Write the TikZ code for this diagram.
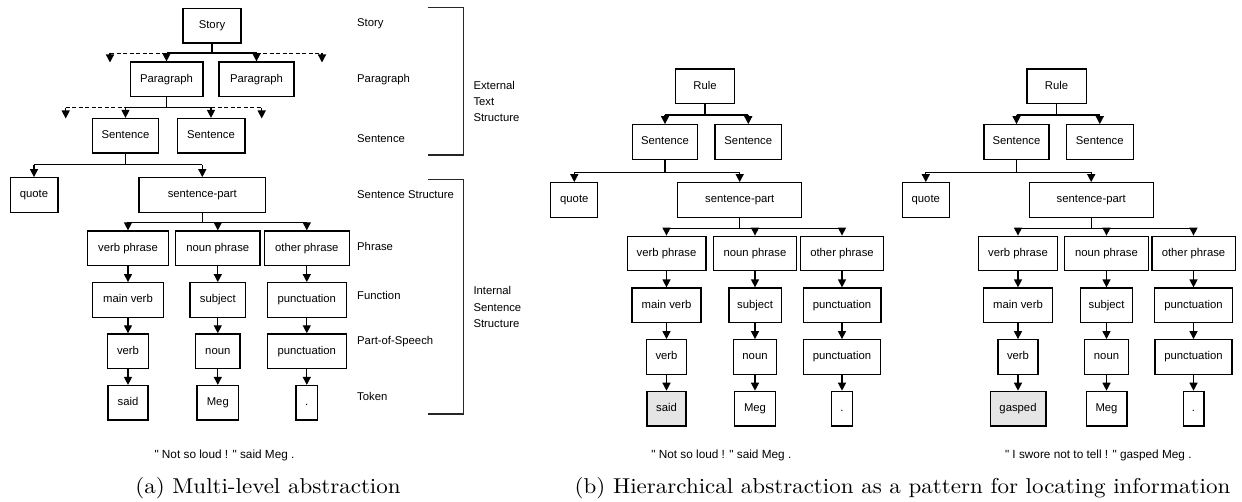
\documentclass[tikz,border=0pt]{standalone}
\usepackage{fontspec}
\newfontfamily\lsans{Liberation Sans}
\usetikzlibrary{arrows.meta}
\tikzset{
  bx/.style={draw, line width=1.3pt, minimum height=34.5pt, inner sep=0pt,
    font=\lsans\fontsize{11.3}{13}\selectfont, text height=8.2pt, text depth=2.4pt},
  lbl/.style={anchor=west, inner sep=0pt, font=\lsans\fontsize{11.3}{13}\selectfont},
  stxt/.style={inner sep=0pt, font=\lsans\fontsize{11.8}{13}\selectfont},
  ln/.style={line width=1.3pt},
  ar/.style={line width=1.3pt, -{Triangle[length=8pt,width=8pt]}},
  dsh/.style={line width=1pt, dash pattern=on 4pt off 2.5pt},
  brk/.style={line width=1.5pt, draw=black!85},
  capt/.style={inner sep=0pt, font=\fontsize{10}{12}\selectfont, xscale=2.3, yscale=2.15},
  tokfill/.style={fill=black!10},
}
\newcommand{\hpanel}[6]{%
\begin{scope}[xshift=#1]
\node[bx, minimum width=59.3pt] (#2rule) at (705,86.3) {Rule};
\node[bx, minimum width=65pt] (#2s1) at (665,142) {Sentence};
\node[bx, minimum width=66.7pt] (#2s2) at (748.3,142) {Sentence};
\node[bx, minimum width=47pt] (#2quote) at (574.3,200) {quote};
\node[bx, minimum width=124pt] (#2spart) at (739.7,200) {sentence-part};
\node[bx, minimum width=78.7pt] (#2vp) at (666.5,253.5) {verb phrase};
\node[bx, minimum width=83.4pt] (#2np) at (755,253.5) {noun phrase};
\node[bx, minimum width=83.3pt] (#2op) at (842,253.5) {other phrase};
\node[bx, minimum width=69pt] (#2mv) at (666.5,305.3) {main verb};
\node[bx, minimum width=52.3pt] (#2subj) at (755,305.3) {subject};
\node[bx, minimum width=77.7pt] (#2pf) at (842,305.3) {punctuation};
\node[bx, minimum width=40pt] (#2verb) at (666.5,357) {verb};
\node[bx, minimum width=43.4pt] (#2noun) at (755,357) {noun};
\node[bx, minimum width=77pt] (#2pp) at (842,357) {punctuation};
\node[bx, tokfill, minimum width=#4] (#2tok) at (666.5,408.6) {#3};
\node[bx, minimum width=40.7pt] (#2meg) at (755,408.6) {Meg};
\node[bx, minimum width=20.7pt] (#2dot) at (842,408.6) {.};
\node[stxt] (#2text) at (#6,455) {#5};
\path (#2rule.south) ++(0,10.8) coordinate (#2j1);
\draw[ln] (#2rule.south) -- (#2j1);
\draw[ln] (#2j1 -| #2s1) -- (#2j1 -| #2s2);
\draw[ar] (#2j1 -| #2s1) -- (#2s1.north);
\draw[ar] (#2j1 -| #2s2) -- (#2s2.north);
\path (#2s1.south) ++(0,12.4) coordinate (#2j2);
\draw[ln] (#2s1.south) -- (#2j2);
\draw[ln] (#2j2 -| #2quote) -- (#2j2 -| #2spart);
\draw[ar] (#2j2 -| #2quote) -- (#2quote.north);
\draw[ar] (#2j2 -| #2spart) -- (#2spart.north);
\path (#2spart.south) ++(0,10.3) coordinate (#2j3);
\draw[ln] (#2spart.south) -- (#2j3);
\draw[ln] (#2j3 -| #2vp) -- (#2j3 -| #2op);
\draw[ar] (#2j3 -| #2vp) -- (#2vp.north);
\draw[ar] (#2j3 -| #2np) -- (#2np.north);
\draw[ar] (#2j3 -| #2op) -- (#2op.north);
\draw[ar] (#2vp) -- (#2mv);
\draw[ar] (#2mv) -- (#2verb);
\draw[ar] (#2verb) -- (#2tok);
\draw[ar] (#2np) -- (#2subj);
\draw[ar] (#2subj) -- (#2noun);
\draw[ar] (#2noun) -- (#2meg);
\draw[ar] (#2op) -- (#2pf);
\draw[ar] (#2pf) -- (#2pp);
\draw[ar] (#2pp) -- (#2dot);
\end{scope}}
\begin{document}
\begin{tikzpicture}[x=1pt, y=-1pt]
\useasboundingbox (0,0) rectangle (1242,502);
% ---------- panel (a)
\node[bx, minimum width=58pt] (story) at (212,25.7) {Story};
\node[bx, minimum width=72.7pt] (para1) at (166.5,79.3) {Paragraph};
\node[bx, minimum width=75pt] (para2) at (256.5,79.3) {Paragraph};
\node[bx, minimum width=66.6pt] (sent1) at (125.5,135.8) {Sentence};
\node[bx, minimum width=67.7pt] (sent2) at (211,135.8) {Sentence};
\node[bx, minimum width=47.7pt] (quote) at (34,195) {quote};
\node[bx, minimum width=126.4pt] (spart) at (202.3,195) {sentence-part};
\node[bx, minimum width=80.4pt] (vp) at (128,248.3) {verb phrase};
\node[bx, minimum width=84.3pt] (np) at (217.8,248.3) {noun phrase};
\node[bx, minimum width=85pt] (op) at (306.8,248.3) {other phrase};
\node[bx, minimum width=70.6pt] (mv) at (128,300) {main verb};
\node[bx, minimum width=55.7pt] (subj) at (217.8,300) {subject};
\node[bx, minimum width=79.3pt] (pf) at (306.8,300) {punctuation};
\node[bx, minimum width=41.6pt] (verb) at (128,351.2) {verb};
\node[bx, minimum width=44.3pt] (noun) at (217.8,351.2) {noun};
\node[bx, minimum width=79pt] (pp) at (306.8,351.2) {punctuation};
\node[bx, minimum width=40pt] (said) at (128,402.8) {said};
\node[bx, minimum width=41.6pt] (meg) at (217.8,402.8) {Meg};
\node[bx, minimum width=21.7pt] (dot) at (306.8,402.8) {.};
\node[stxt] (textA) at (224.5,455) {" Not so loud ! " said Meg .};
% story level
\path (story.south) ++(0,9.5) coordinate (j1);
\coordinate (o1l) at (110,62.5);
\coordinate (o1r) at (322,62.5);
\draw[ln] (story.south) -- (j1);
\draw[dsh] (o1l |- j1) -- (j1 -| para1);
\draw[dsh] (j1 -| para2) -- (o1r |- j1);
\draw[ln] (j1 -| para1) -- (j1 -| para2);
\draw[ar] (j1 -| para1) -- (para1.north);
\draw[ar] (j1 -| para2) -- (para2.north);
\draw[ar] (o1l |- j1) -- (o1l);
\draw[ar] (o1r |- j1) -- (o1r);
% paragraph level
\path (para1.south) ++(0,10.5) coordinate (j2);
\coordinate (o2l) at (65.7,118.5);
\coordinate (o2r) at (261.7,118.5);
\draw[ln] (para1.south) -- (j2);
\draw[dsh] (o2l |- j2) -- (j2 -| sent1);
\draw[dsh] (j2 -| sent2) -- (o2r |- j2);
\draw[ln] (j2 -| sent1) -- (j2 -| sent2);
\draw[ar] (j2 -| sent1) -- (sent1.north);
\draw[ar] (j2 -| sent2) -- (sent2.north);
\draw[ar] (o2l |- j2) -- (o2l);
\draw[ar] (o2r |- j2) -- (o2r);
% sentence level
\path (sent1.south) ++(0,11) coordinate (j3);
\draw[ln] (sent1.south) -- (j3);
\draw[ln] (j3 -| quote) -- (j3 -| spart);
\draw[ar] (j3 -| quote) -- (quote.north);
\draw[ar] (j3 -| spart) -- (spart.north);
% sentence-part level
\path (spart.south) ++(0,9.5) coordinate (j4);
\draw[ln] (spart.south) -- (j4);
\draw[ln] (j4 -| vp) -- (j4 -| op);
\draw[ar] (j4 -| vp) -- (vp.north);
\draw[ar] (j4 -| np) -- (np.north);
\draw[ar] (j4 -| op) -- (op.north);
% columns
\draw[ar] (vp) -- (mv);
\draw[ar] (mv) -- (verb);
\draw[ar] (verb) -- (said);
\draw[ar] (np) -- (subj);
\draw[ar] (subj) -- (noun);
\draw[ar] (noun) -- (meg);
\draw[ar] (op) -- (pf);
\draw[ar] (pf) -- (pp);
\draw[ar] (pp) -- (dot);
% level labels
\node[lbl] (lStory) at (357,24) {Story};
\node[lbl] (lPara) at (357,80) {Paragraph};
\node[lbl] (lSent) at (357,138.3) {Sentence};
\node[lbl] (lSS) at (357,195) {Sentence Structure};
\node[lbl] (lPhrase) at (357,246) {Phrase};
\node[lbl] (lFunc) at (357,295) {Function};
\node[lbl] (lPos) at (357,341.7) {Part-of-Speech};
\node[lbl] (lTok) at (357,396) {Token};
% brackets
\coordinate (b1t) at (428.3,7.3);
\coordinate (b1b) at (428.3,155);
\coordinate (b2t) at (428.3,179.3);
\coordinate (b2b) at (428.3,414);
\draw[brk] (b1t) -- ++(35,0) |- (b1b);
\draw[brk] (b2t) -- ++(35,0) |- (b2b);
\node[lbl, align=left, font=\lsans\fontsize{11.3}{16}\selectfont] (ext) at (473.3,101) {External\\Text\\Structure};
\node[lbl, align=left, font=\lsans\fontsize{11.3}{16.5}\selectfont] (int) at (473.3,307) {Internal\\Sentence\\Structure};
\node[capt] (capA) at (268,488) {(a) Multi-level abstraction};
% ---------- panel (b)
\hpanel{0pt}{m}{said}{39pt}{" Not so loud ! " said Meg .}{721.3}
\hpanel{351.5pt}{r}{gasped}{55.7pt}{" I swore not to tell ! " gasped Meg .}{746.8}
\node[capt] (capB) at (902.5,488) {(b) Hierarchical abstraction as a pattern for locating information};
\end{tikzpicture}
\end{document}
